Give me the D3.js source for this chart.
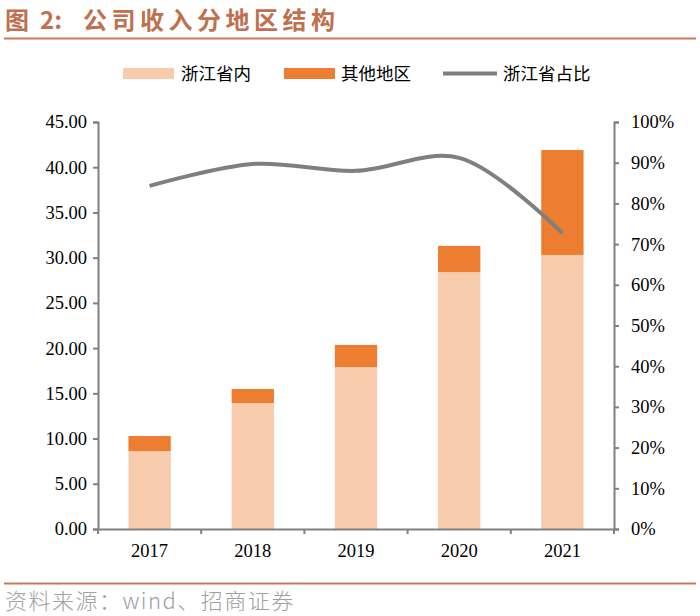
<!DOCTYPE html>
<html><head><meta charset="utf-8">
<script src="https://cdn.jsdelivr.net/npm/d3@7"></script>
<style>body{margin:0;background:#fff}svg{display:block}</style>
</head><body>
<svg id="c" width="700" height="616"></svg>
<script>
const categories = ["2017","2018","2019","2020","2021"];
const zhejiang = [8.62, 13.93, 17.9, 28.4, 30.3];
const other = [1.66, 1.55, 2.45, 2.9, 11.6];
const share = [0.843, 0.897, 0.880, 0.912, 0.727];
const leftTicks = [0,5,10,15,20,25,30,35,40,45];
const rightTicks = [0,0.1,0.2,0.3,0.4,0.5,0.6,0.7,0.8,0.9,1.0];
const seriesNames = ["浙江省内","其他地区","浙江省占比"];

const svg = d3.select("#c");
const serif = "'Liberation Serif','Times New Roman',serif";
const cjk = "'Noto Sans CJK SC',sans-serif";
const axisColor = "#808080";

// title
const title = svg.append("text").attr("y",29).attr("fill","#c0704f")
  .attr("font-family",cjk).attr("font-weight","bold").attr("font-size",24);
title.append("tspan").attr("x",5).text("图");
title.append("tspan").attr("x",40).text("2:");
title.append("tspan").attr("x",83).attr("letter-spacing",4.5).text("公司收入分地区结构");
svg.append("line").attr("x1",4).attr("x2",696).attr("y1",38.5).attr("y2",38.5)
  .attr("stroke","#c9785a").attr("stroke-width",2);

const L=98, R=614, T=122, B=529;
const x = d3.scaleBand().domain(categories).range([L,R]).paddingInner(0.59).paddingOuter(0.295);
const xb = d3.scaleBand().domain(categories).range([L,R]);
const y = d3.scaleLinear().domain([0,45]).range([B,T]);
const y2 = d3.scaleLinear().domain([0,1]).range([B,T]);

// bars
const g = svg.append("g");
g.selectAll(".a").data(categories).enter().append("rect")
  .attr("x",d=>x(d)).attr("width",x.bandwidth())
  .attr("y",(d,i)=>y(zhejiang[i])).attr("height",(d,i)=>B-y(zhejiang[i]))
  .attr("fill","#f8cbad");
g.selectAll(".b").data(categories).enter().append("rect")
  .attr("x",d=>x(d)).attr("width",x.bandwidth())
  .attr("y",(d,i)=>y(zhejiang[i]+other[i])).attr("height",(d,i)=>y(zhejiang[i])-y(zhejiang[i]+other[i]))
  .attr("fill","#ed7d31");

// axes
const ya = svg.append("g").attr("transform",`translate(${L},0)`)
  .call(d3.axisLeft(y).tickValues(leftTicks).tickFormat(d3.format(".2f")).tickSize(5).tickPadding(6));
const yb = svg.append("g").attr("transform",`translate(${R},0)`)
  .call(d3.axisRight(y2).tickValues(rightTicks).tickFormat(d3.format(".0%")).tickSize(5).tickPadding(12));
const xa = svg.append("g").attr("transform",`translate(0,${B})`)
  .call(d3.axisBottom(xb).tickSize(0).tickPadding(15));
// category boundary ticks
svg.append("g").selectAll("line").data(categories.concat(["end"])).enter().append("line")
  .attr("x1",(d,i)=>L+i*xb.step()).attr("x2",(d,i)=>L+i*xb.step())
  .attr("y1",B).attr("y2",B+5).attr("stroke",axisColor).attr("stroke-width",2);
[ya,yb,xa].forEach(a=>{
  a.selectAll("path").attr("stroke",axisColor).attr("stroke-width",2);
  a.selectAll(".tick line").attr("stroke",axisColor).attr("stroke-width",2);
  a.selectAll("text").attr("font-family",serif).attr("font-size",18.5).attr("fill","#000");
});
xa.select("path").attr("d",`M${L},0.5H${R}`);

// line
const line = d3.line().x((d,i)=>xb(categories[i])+xb.bandwidth()/2).y(d=>y2(d)).curve(d3.curveCatmullRom.alpha(0.5));
svg.append("path").datum(share).attr("d",line).attr("fill","none")
  .attr("stroke","#7f7f7f").attr("stroke-width",4);

// legend
const lg = svg.append("g").attr("font-family",cjk).attr("font-size",17.5);
lg.append("rect").attr("x",123).attr("y",68).attr("width",51).attr("height",11).attr("fill","#f8cbad");
lg.append("text").attr("x",181).attr("y",80).text(seriesNames[0]);
lg.append("rect").attr("x",284).attr("y",68).attr("width",51).attr("height",11).attr("fill","#ed7d31");
lg.append("text").attr("x",341).attr("y",80).text(seriesNames[1]);
lg.append("line").attr("x1",443).attr("x2",497).attr("y1",73.5).attr("y2",73.5).attr("stroke","#7f7f7f").attr("stroke-width",4);
lg.append("text").attr("x",503).attr("y",80).text(seriesNames[2]);

// footer
svg.append("line").attr("x1",4).attr("x2",696).attr("y1",583.5).attr("y2",583.5)
  .attr("stroke","#c9785a").attr("stroke-width",2);
svg.append("text").attr("x",5).attr("y",609).attr("fill","#a0a0a0").attr("letter-spacing",1.5)
  .attr("font-family",cjk).attr("font-weight",300).attr("font-size",22).text("资料来源：wind、招商证券");
</script>
</body></html>
